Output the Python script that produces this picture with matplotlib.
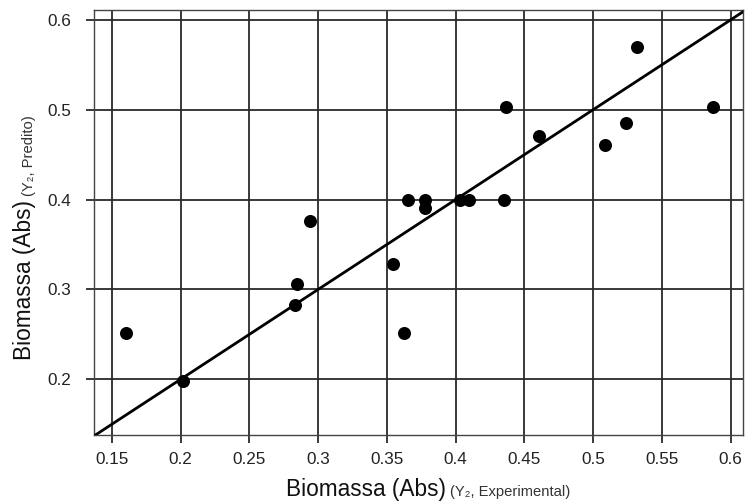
import numpy as np
import matplotlib
matplotlib.use("Agg")
import matplotlib.pyplot as plt

plt.rcParams['font.family'] = ['Liberation Sans', 'DejaVu Sans']

# observed vs predicted biomass (Y2)
experimental = [0.160, 0.2017, 0.283, 0.2846, 0.294, 0.3544, 0.3624, 0.365,
                0.378, 0.378, 0.403, 0.410, 0.435, 0.4363, 0.461, 0.5088,
                0.5238, 0.532, 0.587]
predito = [0.251, 0.198, 0.283, 0.3065, 0.376, 0.328, 0.251, 0.400,
           0.400, 0.391, 0.400, 0.400, 0.400, 0.503, 0.471, 0.461,
           0.485, 0.570, 0.503]

xticks = [0.15, 0.2, 0.25, 0.3, 0.35, 0.4, 0.45, 0.5, 0.55, 0.6]
xticklabels = ['0.15', '0.2', '0.25', '0.3', '0.35', '0.4', '0.45', '0.5', '0.55', '0.6']
yticks = [0.2, 0.3, 0.4, 0.5, 0.6]
yticklabels = ['0.2', '0.3', '0.4', '0.5', '0.6']

fig = plt.figure(figsize=(7.45, 5.04), dpi=100)
ax = fig.add_axes([0.1262, 0.1369, 0.8711, 0.8433])

ax.set_xlim(0.137, 0.609)
ax.set_ylim(0.138, 0.611)

ax.set_xticks(xticks)
ax.set_xticklabels(xticklabels)
ax.set_yticks(yticks)
ax.set_yticklabels(yticklabels)
ax.grid(True, color='#2a2a2a', linewidth=1.3)
ax.set_axisbelow(True)

ax.tick_params(axis='both', direction='out', length=5.5, width=1.3,
               color='#2a2a2a', labelsize=12.3, labelcolor='#222222')
ax.tick_params(axis='x', pad=7)
ax.tick_params(axis='y', pad=11)
for s in ax.spines.values():
    s.set_color('#444444')
    s.set_linewidth(1.0)

# y = x reference line
lims = np.array([0.13, 0.62])
ax.plot(lims, lims, color='black', linewidth=2.0, zorder=3)

ax.scatter(experimental, predito, s=88, color='black', zorder=4, linewidths=0)

# axis labels, two sizes each
fig.text(446 / 745, 1 - 496 / 504, 'Biomassa (Abs)', fontsize=16.3,
         ha='right', va='baseline', color='#111111')
fig.text(450 / 745, 1 - 496 / 504, '(Y\u2082, Experimental)', fontsize=10.6,
         ha='left', va='baseline', color='#333333')
fig.text(36 / 745, 1 - 200 / 504, 'Biomassa (Abs)', fontsize=16.3,
         rotation=90, ha='right', va='bottom', rotation_mode='anchor', color='#111111')
fig.text(36 / 745, 1 - 196 / 504, '(Y\u2082, Predito)', fontsize=10.6,
         rotation=90, ha='left', va='bottom', rotation_mode='anchor', color='#333333')

fig.savefig('out.png', dpi=100)
